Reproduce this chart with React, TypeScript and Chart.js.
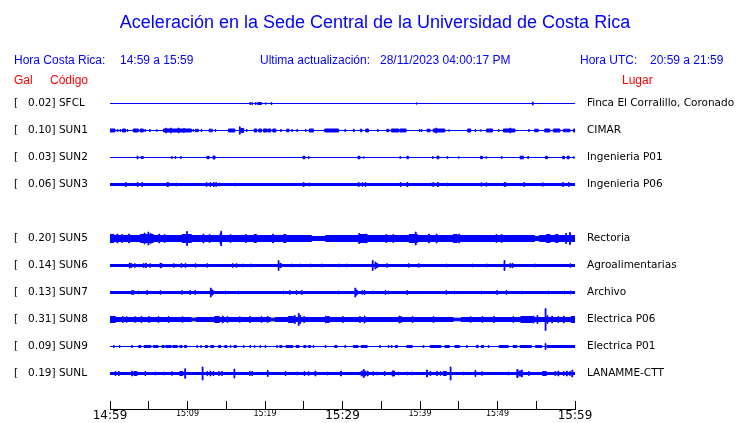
import React, { useEffect, useRef } from 'react';
import { Chart, registerables } from 'chart.js';

Chart.register(...registerables);

// ---------- texts ----------
const TITLE = 'Aceleración en la Sede Central de la Universidad de Costa Rica';
const LOCAL_LABEL = 'Hora Costa Rica:';
const LOCAL_RANGE = '14:59 a 15:59';
const UPDATE_LABEL = 'Ultima actualización:';
const UPDATE_VALUE = '28/11/2023 04:00:17 PM';
const UTC_LABEL = 'Hora UTC:';
const UTC_RANGE = '20:59 a 21:59';
const HEAD_GAL = 'Gal';
const HEAD_CODE = 'Código';
const HEAD_PLACE = 'Lugar';

// ---------- data ----------
const stationCodes = ['SFCL', 'SUN1', 'SUN2', 'SUN3', '', 'SUN5', 'SUN6', 'SUN7', 'SUN8', 'SUN9', 'SUNL'];
const peakGal = [0.02, 0.10, 0.03, 0.06, null, 0.20, 0.14, 0.13, 0.31, 0.09, 0.19];
const places = [
  'Finca El Corralillo, Coronado', 'CIMAR', 'Ingenieria P01', 'Ingenieria P06', '',
  'Rectoria', 'Agroalimentarias', 'Archivo', 'Electrica P06', 'Electrica P01', 'LANAMME-CTT',
];
// time axis: minutes after 14:59
const xTickLabels = ['14:59', '', '15:09', '', '15:19', '', '15:29', '', '15:39', '', '15:49', '', '15:59'];
const majorTickLabels = ['14:59', '15:29', '15:59'];

// background noise half-amplitude of each trace
const noiseLevel = [0, 0, 0, 1, 0, 3, 1, 1, 2, 0, 1];

// bursts: [start minute, duration minutes, half amplitude]
const burstsSFCL = [
  [18.05, 0.1, 1], [18.3, 0.1, 1], [18.75, 0.1, 1], [19.05, 0.5, 1], [20.05, 0.1, 0.7],
  [20.8, 0.1, 1], [39.5, 0.1, 0.7], [54.5, 0.1, 1.5],
];
const burstsSUN1 = [
  [0, 0.65, 1.5], [0.95, 0.1, 1], [1.3, 0.1, 1], [1.6, 0.4, 1.5], [2.2, 0.1, 1], [3.0, 0.65, 1.5],
  [3.9, 0.4, 1.5], [4.5, 0.1, 1], [5.1, 0.1, 1], [6.0, 0.1, 0.8], [6.9, 3.6, 1.5], [7.2, 0.1, 2.5],
  [7.8, 0.1, 2.5], [8.8, 0.1, 2.5], [9.5, 0.1, 2], [10.7, 0.1, 1], [11.0, 0.4, 1.2], [11.75, 0.1, 1],
  [12.8, 0.4, 1.3], [13.55, 0.1, 1], [15.3, 0.8, 1.5], [16.7, 0.1, 3.7], [16.9, 0.35, 2], [17.6, 0.1, 1],
  [18.6, 0.35, 1.5], [19.2, 0.35, 1.5], [19.8, 0.5, 1.5], [20.4, 0.35, 1.5], [21.0, 0.4, 1.5],
  [22.0, 0.1, 1], [22.8, 0.3, 1.3], [23.45, 0.1, 1], [24.1, 0.1, 1], [25.2, 0.1, 1], [25.7, 0.55, 1.5],
  [27.7, 1.8, 1.5], [30.3, 0.1, 1], [31.4, 0.1, 1.3], [32.3, 0.2, 1.3], [33.0, 0.35, 1.5], [34.5, 0.1, 1],
  [35.7, 0.3, 1.2], [36.3, 0.95, 1.5], [37.4, 0.8, 1.5], [39.9, 0.1, 1], [40.15, 0.1, 1], [40.9, 0.4, 1.3],
  [41.7, 1.5, 1.5], [42.05, 0.1, 2.5], [43.7, 0.1, 0.7], [46.15, 0.4, 1.5], [47.1, 0.1, 1], [47.8, 0.1, 0.7],
  [48.6, 0.75, 1.5], [50.1, 0.1, 1], [50.75, 1.5, 1.5], [51.6, 0.1, 2.5], [54.0, 0.1, 1], [54.8, 0.45, 1.3],
  [56.1, 0.65, 1.5], [57.2, 0.85, 1.5], [58.5, 0.85, 1.3], [59.8, 0.2, 1.5],
];
const burstsSUN2 = [
  [3.5, 0.1, 1.5], [4.0, 0.1, 1], [4.2, 0.1, 1], [7.95, 0.1, 1], [8.4, 0.1, 1], [9.1, 0.1, 1],
  [12.5, 0.3, 1.2], [13.3, 0.25, 1.5], [24.9, 0.25, 1.3], [25.6, 0.1, 1], [32.0, 0.25, 1.3], [32.7, 0.1, 0.7],
  [37.4, 0.1, 1], [38.3, 0.2, 1.2], [41.6, 0.1, 1], [42.2, 0.25, 1.3], [43.5, 0.1, 1], [44.95, 0.1, 0.7],
  [47.8, 0.25, 1.2], [48.5, 0.1, 0.8], [50.5, 0.1, 1], [52.9, 0.45, 1.3], [53.9, 0.1, 1], [56.2, 0.25, 1.2],
  [58.4, 0.25, 1.2], [59.0, 0.25, 1.3], [59.8, 0.1, 0.7],
];
const burstsSUN3 = [
  [2.0, 0.1, 2], [3.5, 0.1, 2], [4.1, 0.1, 2], [7.35, 0.1, 2], [7.5, 0.1, 1.7], [8.55, 0.1, 1.5],
  [12.4, 0.1, 2], [12.9, 0.1, 2], [13.35, 0.1, 2], [13.65, 0.1, 2], [14.1, 0.1, 1.5], [16.1, 0.1, 1.5],
  [24.95, 0.1, 2], [25.7, 0.1, 1.5], [32.05, 0.1, 2], [32.5, 0.1, 1.7], [32.9, 0.1, 2], [37.45, 0.1, 2],
  [38.3, 0.15, 2], [41.3, 0.1, 1.5], [41.65, 0.1, 2], [42.25, 0.15, 2], [43.5, 0.1, 1.5], [47.85, 0.1, 1.7],
  [48.5, 0.1, 1.7], [50.85, 0.1, 2], [51.0, 0.1, 1.7], [53.4, 0.1, 2], [55.8, 0.1, 1.7], [58.4, 0.1, 2],
  [59.15, 0.1, 2],
];
const burstsSUN5 = [
  [0, 0.5, 4], [0.9, 0.1, 4.5], [1.5, 0.1, 4], [2.4, 0.1, 4.5], [3.9, 1.7, 4], [4.4, 0.1, 5.5],
  [4.9, 0.1, 6.5], [5.2, 0.1, 5], [6.3, 0.1, 4.5], [7.0, 0.1, 4], [9.3, 1.2, 4], [9.9, 0.1, 7],
  [12.0, 0.1, 4.5], [12.8, 0.1, 4], [14.2, 0.1, 5], [14.3, 0.1, 7.3], [15.5, 0.1, 4], [17.5, 0.1, 4],
  [18.6, 0.3, 4], [21.0, 0.1, 4.5], [22.4, 0.3, 4], [26.0, 1.8, 2], [32.1, 0.1, 5], [32.2, 1.0, 4],
  [33.0, 0.1, 4.5], [35.6, 0.1, 4], [36.5, 0.1, 4], [38.6, 1.1, 4], [39.4, 0.1, 6.5], [41.1, 0.1, 4.5],
  [42.1, 0.1, 4.5], [44.3, 0.5, 4], [45.0, 0.1, 4.5], [49.8, 0.1, 4], [50.5, 0.1, 4], [54.8, 0.6, 2],
  [56.3, 0.5, 4], [57.5, 0.3, 4], [58.8, 0.1, 5], [59.3, 0.1, 6],
];
const burstsSUN6 = [
  [2.5, 0.1, 2.5], [2.7, 0.1, 2], [3.15, 0.1, 1.8], [4.3, 0.1, 2], [4.6, 0.1, 2.2], [5.15, 0.1, 1.8],
  [6.45, 0.1, 2.3], [6.6, 0.1, 2], [8.2, 0.1, 1.8], [9.15, 0.1, 2], [9.7, 0.1, 2], [11.0, 0.1, 1.8],
  [12.5, 0.1, 1.8], [15.8, 0.1, 1.8], [16.25, 0.1, 1.8], [17.1, 0.1, 1.5], [18.15, 0.1, 1.5],
  [21.7, 0.1, 5], [21.9, 0.2, 2], [23.4, 0.1, 1.5], [24.5, 0.1, 1.5], [25.8, 0.1, 1.5], [27.3, 0.1, 1.5],
  [29.5, 0.1, 1.5], [30.5, 0.1, 1.5], [33.85, 0.1, 5], [34.2, 0.1, 3.5], [34.3, 0.25, 2], [35.7, 0.1, 1.8],
  [38.5, 0.1, 1.8], [39.8, 0.1, 1.8], [43.35, 0.1, 1.5], [46.7, 0.1, 1.5], [48.6, 0.1, 1.5],
  [50.85, 0.1, 5], [51.6, 0.1, 2], [51.9, 0.1, 2.2], [54.8, 0.1, 1.5], [59.35, 0.1, 1.8],
];
const burstsSUN7 = [
  [2.8, 0.1, 2], [3.0, 0.1, 1.8], [3.65, 0.1, 1.5], [4.75, 0.1, 2], [6.45, 0.1, 1.8], [9.25, 0.1, 1.8],
  [10.3, 0.1, 2], [10.95, 0.1, 2], [12.95, 0.1, 4.5], [13.1, 0.2, 2.5], [14.85, 0.1, 1.5], [16.5, 0.1, 1.5],
  [22.35, 0.1, 1.5], [23.15, 0.1, 1.8], [24.0, 0.1, 1.8], [24.7, 0.1, 2], [29.4, 0.1, 1.5], [31.6, 0.1, 4.5],
  [31.75, 0.15, 2.5], [32.5, 0.1, 1.8], [32.8, 0.1, 2], [33.9, 0.1, 1.5], [35.5, 0.1, 2], [35.9, 0.1, 1.5],
  [38.3, 0.1, 2], [43.35, 0.1, 1.8], [44.4, 0.1, 1.5], [47.9, 0.1, 1.5], [49.9, 0.1, 2], [51.1, 0.1, 1.8],
  [53.1, 0.1, 1.5], [56.5, 0.1, 1.5], [58.6, 0.1, 1.5], [59.35, 0.1, 1.5],
];
const burstsSUN8 = [
  [0, 0.7, 3], [1.6, 0.1, 3], [2.1, 0.1, 2.8], [3.2, 0.1, 2.8], [4.0, 0.1, 3.2], [5.0, 0.1, 3],
  [6.2, 0.1, 3], [7.5, 0.1, 3], [9.3, 0.1, 2.8], [10.5, 0.6, 1.3], [13.5, 0.6, 3], [14.5, 0.1, 3.5],
  [15.1, 0.1, 3], [16.7, 0.1, 2.8], [18.0, 0.1, 3], [19.5, 0.1, 3], [20.3, 0.1, 3], [20.7, 0.6, 1.3],
  [23.0, 0.8, 3], [23.8, 0.1, 4], [24.3, 0.1, 6], [24.5, 0.1, 4], [25.0, 0.1, 3], [27.8, 0.1, 3.5],
  [28.0, 0.3, 3], [30.0, 0.1, 3], [32.2, 0.1, 3], [32.8, 0.1, 3.5], [37.3, 0.1, 3.5], [37.5, 0.1, 3],
  [39.0, 0.1, 3], [41.7, 0.1, 3], [44.3, 1.0, 1.3], [46.5, 0.1, 2.8], [48.0, 0.1, 3], [49.5, 0.1, 3],
  [52.0, 0.1, 3], [53.0, 1.5, 3], [54.6, 0.1, 3.5], [55.1, 0.1, 4], [56.15, 0.1, 11], [56.4, 0.1, 4],
  [57.0, 0.1, 3.5], [57.8, 0.1, 3], [58.5, 0.1, 3.5], [59.5, 0.5, 3],
];
const burstsSUN9 = [
  [0.45, 0.1, 1], [1.2, 0.1, 1], [2.8, 0.1, 1], [3.7, 0.3, 1], [4.4, 0.9, 1], [5.6, 0.6, 1], [6.7, 0.3, 1],
  [7.2, 0.7, 1], [8.1, 0.6, 1], [9.0, 0.3, 1], [9.6, 0.3, 1], [11.2, 0.1, 1], [11.7, 0.1, 1], [12.3, 0.3, 1],
  [13.0, 0.4, 1], [14.0, 0.3, 1], [14.8, 0.3, 1], [15.5, 0.1, 1], [16.0, 0.3, 1], [17.2, 0.1, 1],
  [18.05, 0.1, 1], [18.6, 0.1, 1], [19.35, 0.1, 1], [20.0, 0.1, 1], [21.5, 0.1, 1], [21.9, 0.3, 1],
  [22.7, 0.9, 1], [24.0, 0.4, 1], [25.0, 0.3, 1], [25.6, 0.3, 1], [26.2, 0.1, 1], [27.75, 0.1, 1],
  [29.0, 0.3, 1], [30.3, 0.1, 1], [31.4, 0.6, 1], [32.4, 0.8, 1], [34.8, 0.1, 1], [35.9, 0.1, 1],
  [36.3, 0.1, 1], [36.8, 0.3, 1], [38.3, 0.7, 1], [40.4, 0.1, 1], [41.3, 1.4, 1], [43.2, 0.6, 1],
  [44.5, 0.6, 1], [46.0, 0.1, 1], [47.3, 0.2, 1.2], [47.9, 0.3, 1], [48.8, 0.1, 1], [50.2, 1.2, 1],
  [52.0, 0.5, 1], [52.9, 0.9, 1], [53.8, 0.6, 1], [54.9, 0.8, 1], [56.15, 0.1, 3], [56.4, 3.6, 1],
];
const burstsSUNL = [
  [0.65, 0.1, 2], [1.1, 0.1, 2], [2.8, 0.1, 2.5], [3.1, 0.3, 2], [3.4, 0.1, 2], [4.5, 0.1, 2],
  [5.8, 0.1, 1.5], [6.9, 0.1, 1.5], [7.95, 0.1, 1.8], [9.0, 0.4, 2], [9.65, 0.1, 4.8], [11.9, 0.1, 6.5],
  [12.5, 0.1, 2], [12.9, 0.1, 2.5], [13.3, 0.1, 2], [14.0, 0.1, 2], [14.4, 0.1, 2], [16.0, 0.1, 4.5],
  [18.0, 0.1, 2], [18.3, 0.1, 2], [20.3, 0.1, 3], [22.6, 0.1, 2], [24.1, 0.1, 1.5], [25.05, 0.1, 2],
  [25.6, 0.1, 1.8], [26.45, 0.1, 2.5], [28.0, 0.1, 1.5], [29.75, 0.1, 2.5], [32.4, 0.6, 2.3],
  [32.7, 0.1, 4], [33.2, 0.1, 2.5], [33.9, 0.1, 1.8], [34.4, 0.1, 1.5], [35.4, 0.1, 2], [36.4, 0.3, 2.5],
  [37.2, 0.1, 1.5], [38.3, 0.1, 1.5], [38.9, 0.1, 1.5], [40.85, 0.1, 3.5], [41.3, 0.1, 2], [42.15, 0.1, 2],
  [42.6, 0.1, 1.8], [43.0, 0.4, 2], [43.9, 0.1, 6.5], [45.6, 0.1, 1.5], [47.1, 0.1, 3], [47.95, 0.1, 1.8],
  [51.4, 0.1, 1.5], [52.5, 0.15, 4], [52.8, 0.3, 2.5], [53.1, 0.1, 3.5], [54.0, 0.1, 2], [55.8, 0.5, 2],
  [57.4, 0.1, 2], [57.8, 0.1, 2.5], [58.5, 0.1, 2], [58.9, 0.1, 2.5], [59.3, 0.1, 2], [59.6, 0.1, 3.5],
];
const burstsByStation = [
  burstsSFCL, burstsSUN1, burstsSUN2, burstsSUN3, [], burstsSUN5,
  burstsSUN6, burstsSUN7, burstsSUN8, burstsSUN9, burstsSUNL,
];

// ---------- layout / style constants ----------
const SPAN_MINUTES = 60;
const TICK_STEP = 5;
const ROW_SPAN = 27;
const BLUE = '#0000ff';
const RED = '#ff0000';
const PLOT_TOP = 90;
const PLOT_BOTTOM = 409;
const FIRST_ROW_Y = 103.5;
const LABEL_FONT = { family: '"DejaVu Sans"', size: 10.5 };

function buildEnvelope(base: number, bursts: number[][]) {
  const cuts = new Set<number>([0, SPAN_MINUTES]);
  bursts.forEach(([t, d]) => {
    cuts.add(t);
    cuts.add(Math.min(SPAN_MINUTES, +(t + d).toFixed(4)));
  });
  const xs = Array.from(cuts).sort((a, b) => a - b);
  const pts = xs.map((x, k) => {
    const next = k < xs.length - 1 ? xs[k + 1] : x;
    const mid = (x + next) / 2;
    let amp = -Infinity;
    bursts.forEach(([t, d, a]) => {
      if (t <= mid && mid < t + d) amp = Math.max(amp, a);
    });
    return [x, amp === -Infinity ? base : amp];
  });
  if (pts.length > 1) pts[pts.length - 1][1] = pts[pts.length - 2][1];
  return pts;
}

const headerPlugin = {
  id: 'header',
  afterDraw(chart: any) {
    const ctx = chart.ctx;
    ctx.save();
    ctx.textBaseline = 'alphabetic';
    ctx.fillStyle = BLUE;
    ctx.font = '18px "Liberation Sans", Arial, sans-serif';
    ctx.textAlign = 'center';
    ctx.fillText(TITLE, 375, 28);
    ctx.textAlign = 'left';
    ctx.font = '12px "Liberation Sans", Arial, sans-serif';
    ctx.fillText(LOCAL_LABEL, 14, 64);
    ctx.fillText(LOCAL_RANGE, 120, 64);
    ctx.fillText(UPDATE_LABEL, 260, 64);
    ctx.fillText(UPDATE_VALUE, 380, 64);
    ctx.fillText(UTC_LABEL, 580, 64);
    ctx.fillText(UTC_RANGE, 650, 64);
    ctx.fillStyle = RED;
    ctx.fillText(HEAD_GAL, 14, 84);
    ctx.fillText(HEAD_CODE, 50, 84);
    ctx.fillText(HEAD_PLACE, 622, 84);
    ctx.restore();
  },
};

export default function App() {
  const ref = useRef<HTMLCanvasElement | null>(null);

  useEffect(() => {
    if (!ref.current) return;
    const datasets: any[] = [];
    stationCodes.forEach((code, row) => {
      if (!code) return;
      const env = buildEnvelope(noiseLevel[row], burstsByStation[row]);
      const c = row * ROW_SPAN;
      datasets.push({
        type: 'line',
        label: code + ' low',
        data: env.map(([x, a]) => ({ x, y: c + a })),
        stepped: true,
        fill: false,
        borderColor: BLUE,
        backgroundColor: BLUE,
        borderWidth: 1,
        pointRadius: 0,
      });
      datasets.push({
        type: 'line',
        label: code + ' high',
        data: env.map(([x, a]) => ({ x, y: c - a })),
        stepped: true,
        fill: '-1',
        borderColor: BLUE,
        backgroundColor: BLUE,
        borderWidth: 1,
        pointRadius: 0,
      });
    });

    const yMin = -(FIRST_ROW_Y - PLOT_TOP);
    const yMax = yMin + (PLOT_BOTTOM - PLOT_TOP);
    const rowTicks = (scale: any) => {
      scale.ticks = stationCodes
        .map((code, row) => (code ? { value: row * ROW_SPAN } : null))
        .filter(Boolean);
    };

    const chart = new Chart(ref.current, {
      type: 'line',
      data: { datasets },
      options: {
        responsive: false,
        animation: false,
        devicePixelRatio: 1,
        events: [],
        layout: { padding: { top: PLOT_TOP, left: 14, right: 0, bottom: 0 } },
        plugins: {
          legend: { display: false },
          tooltip: { enabled: false },
          title: { display: false },
        },
        elements: { point: { radius: 0 }, line: { tension: 0 } },
        scales: {
          x: {
            type: 'linear',
            position: 'bottom',
            min: 0,
            max: SPAN_MINUTES,
            afterBuildTicks: (scale: any) => {
              scale.ticks = xTickLabels.map((_, i) => ({ value: i * TICK_STEP }));
            },
            afterFit: (scale: any) => { scale.height = 14; },
            grid: {
              display: true,
              drawOnChartArea: false,
              drawTicks: true,
              tickLength: -8,
              color: '#000',
              lineWidth: 1,
            },
            border: { display: true, color: '#000', width: 1 },
            ticks: {
              autoSkip: false,
              maxRotation: 0,
              padding: 8,
              color: '#000',
              callback: (_v: any, i: number) => xTickLabels[i],
              font: (ctx: any) => ({
                family: '"DejaVu Sans"',
                size: majorTickLabels.includes(xTickLabels[ctx.index]) ? 12 : 8,
              }),
            },
          },
          y: {
            type: 'linear',
            position: 'left',
            reverse: true,
            min: yMin,
            max: yMax,
            afterBuildTicks: rowTicks,
            afterFit: (scale: any) => { scale.width = 96; },
            grid: { display: false, drawTicks: false },
            border: { display: false },
            ticks: {
              autoSkip: false,
              crossAlign: 'far',
              padding: 0,
              color: '#000',
              font: LABEL_FONT,
              callback: (v: any) => {
                const row = Math.round(v / ROW_SPAN);
                const g = peakGal[row];
                return g == null ? '' : `[   ${g.toFixed(2)}] ${stationCodes[row]}`;
              },
            },
          },
          y2: {
            type: 'linear',
            position: 'right',
            reverse: true,
            min: yMin,
            max: yMax,
            afterBuildTicks: rowTicks,
            afterFit: (scale: any) => { scale.width = 165; },
            grid: {
              display: true,
              drawOnChartArea: false,
              drawTicks: true,
              tickLength: 12,
              color: 'rgba(0,0,0,0)',
            },
            border: { display: false },
            ticks: {
              autoSkip: false,
              crossAlign: 'near',
              padding: 0,
              color: '#000',
              font: LABEL_FONT,
              callback: (v: any) => places[Math.round(v / ROW_SPAN)] || '',
            },
          },
        },
      } as any,
      plugins: [headerPlugin],
    });
    return () => chart.destroy();
  }, []);

  return (
    <div style={{ position: 'absolute', left: 0, top: 0, width: 740, height: 423, background: '#fff' }}>
      <canvas ref={ref} width={740} height={423} style={{ display: 'block' }} />
    </div>
  );
}
